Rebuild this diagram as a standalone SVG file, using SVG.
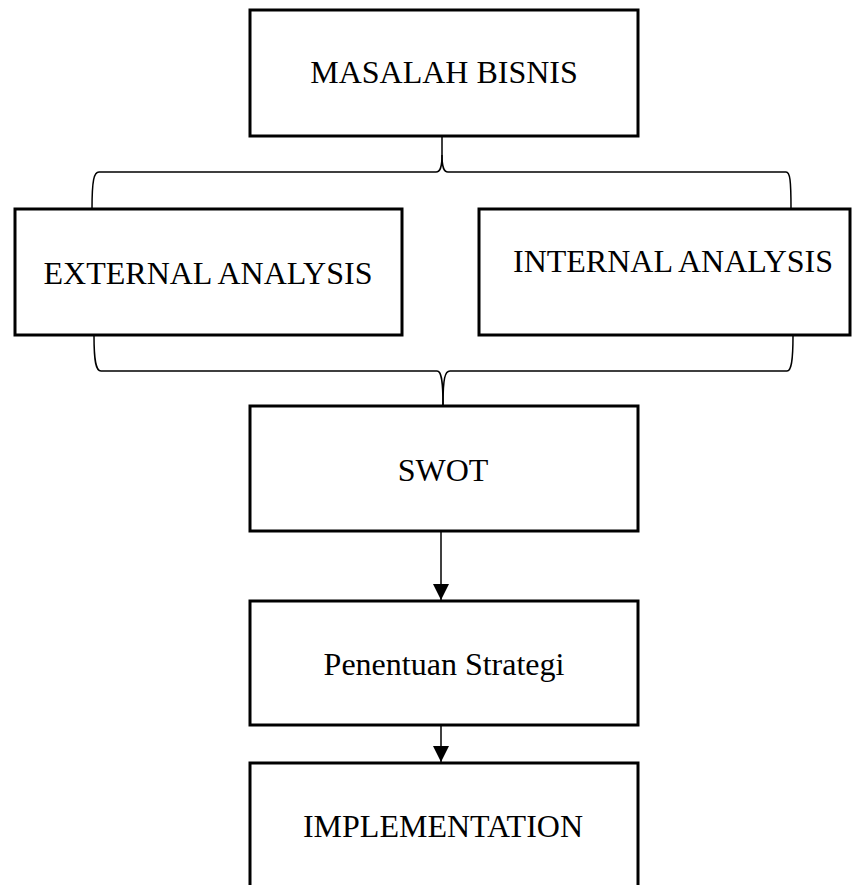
<svg xmlns="http://www.w3.org/2000/svg" width="856" height="885" viewBox="0 0 856 885">
<style>
.box{fill:#fff;stroke:#000;stroke-width:3}
.lbl{font-family:"Liberation Serif","Times New Roman",serif;font-size:32px;fill:#000}
.br{fill:none;stroke:#000;stroke-width:1.5}
.ln{fill:none;stroke:#000;stroke-width:1.5}
</style>
<defs>
<marker id="ah" markerWidth="16" markerHeight="16" viewBox="0 0 16 16" refX="16" refY="8" orient="auto" markerUnits="userSpaceOnUse">
<path d="M0,0 L16,8 L0,16 Z" fill="#000"/>
</marker>
</defs>
<rect width="856" height="885" fill="#fff"/>
<g id="connectors">
<path class="br" d="M442,137 L442,155 C442,168 440,172 436,172 L99,172 C94,172 92,180 92,209"/>
<path class="br" d="M442,155 C442,168 444,172 448,172 L786,172 C790,172 791,180 791,209"/>
<path class="br" d="M94,336 C94,362 96,371 101,371 L437,371 C441,371 443,378 443,405"/>
<path class="br" d="M443,405 C443,378 445,371 450,371 L787,371 C791,371 793,362 793,336"/>
<path class="ln" d="M441,532 L441,600" marker-end="url(#ah)"/>
<path class="ln" d="M441,726 L441,762" marker-end="url(#ah)"/>
</g>
<g id="masalah">
<rect class="box" x="250" y="10" width="388" height="126"/>
<text class="lbl" x="444" y="83" text-anchor="middle">MASALAH BISNIS</text>
</g>
<g id="external">
<rect class="box" x="15" y="209" width="387" height="126"/>
<text class="lbl" x="208" y="284" text-anchor="middle">EXTERNAL ANALYSIS</text>
</g>
<g id="internal">
<rect class="box" x="479" y="209" width="371" height="126"/>
<text class="lbl" x="673" y="272" text-anchor="middle">INTERNAL ANALYSIS</text>
</g>
<g id="swot">
<rect class="box" x="250" y="406" width="388" height="125"/>
<text class="lbl" x="443" y="481" text-anchor="middle">SWOT</text>
</g>
<g id="penentuan">
<rect class="box" x="250" y="601" width="388" height="124"/>
<text class="lbl" x="444" y="675" text-anchor="middle">Penentuan Strategi</text>
</g>
<g id="implementation">
<rect class="box" x="250" y="763" width="388" height="140"/>
<text class="lbl" x="443" y="837" text-anchor="middle">IMPLEMENTATION</text>
</g>
</svg>
